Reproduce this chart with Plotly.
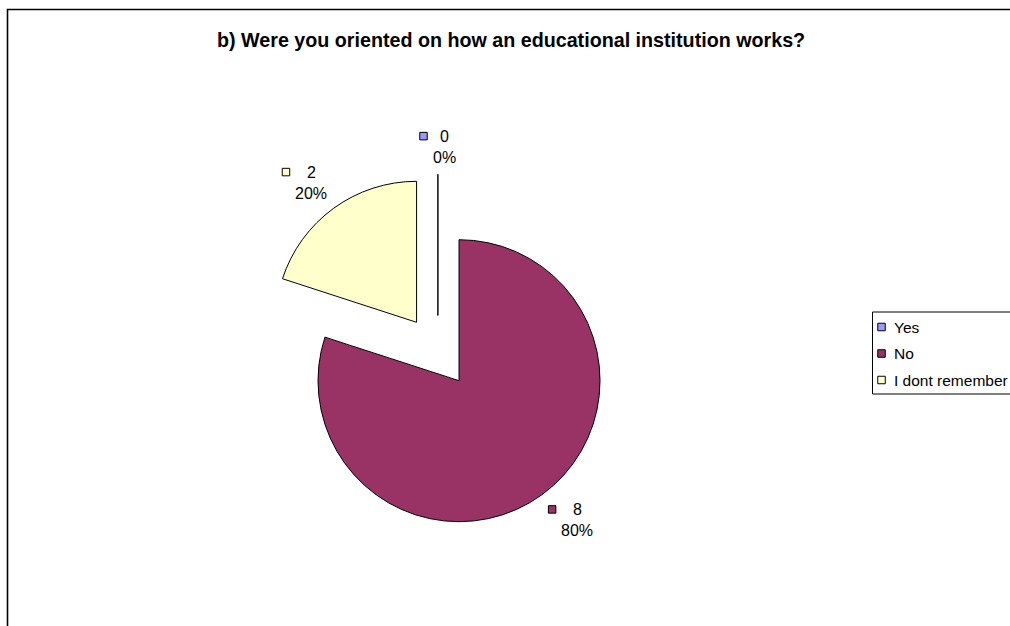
import math
import plotly.graph_objects as go

# ---- data ----
categories = ["Yes", "No", "I dont remember"]
counts = [0, 8, 2]
colors = ["#9999FF", "#993366", "#FFFFCC"]
title_text = "b) Were you oriented on how an educational institution works?"

# ---- layout constants (pixels) ----
W, H = 1010, 626
FONT = "Arial, 'Liberation Sans', sans-serif"
CX, CY = 437.8, 351.5      # pie centre (before pull)
R = 141.0                  # pie radius
PULL = 0.256               # explode fraction
LABEL_GAP = 11.0
FS = 16
LEG_FS = 15.5
LINE_SP = 21.5
SQ = 7.5
SQ_GAP = 5.5

total = sum(counts)
pcts = [round(100 * v / total) for v in counts]

half = R * (1 + PULL)
dom_x = [(CX - half) / W, (CX + half) / W]
dom_y = [1 - (CY + half) / H, 1 - (CY - half) / H]

fig = go.Figure()
fig.add_trace(go.Pie(
    labels=categories, values=counts,
    marker=dict(colors=colors, line=dict(color="black", width=1)),
    pull=[PULL] * len(counts), sort=False, direction="clockwise", rotation=0,
    textinfo="none", hoverinfo="label+value+percent", showlegend=False,
    domain=dict(x=dom_x, y=dom_y),
))


def unit(deg):
    a = math.radians(deg)
    return math.sin(a), -math.cos(a)


CHAR_W = {c: 0.556 for c in "0123456789"}
CHAR_W["%"] = 0.889


def text_w(s):
    return sum(CHAR_W.get(c, 0.556) for c in s) * FS


annotations = []
shapes = []
sq_x, sq_y, sq_c = [], [], []

cum = 0
for cat, v, p, col in zip(categories, counts, pcts, colors):
    start = cum / total * 360
    end = (cum + v) / total * 360
    cum += v
    mid = (start + end) / 2
    ux, uy = unit(mid)
    scx, scy = CX + PULL * R * ux, CY + PULL * R * uy
    if v == 0:
        shapes.append(dict(type="line", xref="x", yref="y", x0=scx, y0=scy,
                           x1=scx + R * ux, y1=scy + R * uy,
                           line=dict(color="#333333", width=1)))
    px, py = scx + (R + LABEL_GAP) * ux, scy + (R + LABEL_GAP) * uy
    lines = [str(v), f"{p}%"]
    tw = max(text_w(s) for s in lines)
    bw = SQ + SQ_GAP + tw
    bh = LINE_SP + 0.72 * FS
    if ux > 0.1:
        left = px
    elif ux < -0.1:
        left = px - bw
    else:
        left = px - bw / 2
    if uy > 0.1:
        top = py
    elif uy < -0.1:
        top = py - bh
    else:
        top = py - bh / 2
    l1 = top + 0.36 * FS
    tx = left + SQ + SQ_GAP + tw / 2
    for k, s in enumerate(lines):
        annotations.append(dict(x=tx, y=l1 + k * LINE_SP, xref="x", yref="y",
                                text=s, showarrow=False, xanchor="center",
                                yanchor="middle",
                                font=dict(family=FONT, size=FS, color="black")))
    sq_x.append(left + SQ / 2)
    sq_y.append(l1)
    sq_c.append(col)

# custom legend
LEG_L, LEG_T, LEG_B = 872.5, 312, 394
LEG_ROW0, LEG_ROW_SP = 327, 26.5
shapes.append(dict(type="rect", xref="x", yref="y", x0=LEG_L, y0=LEG_T,
                   x1=W + 30, y1=LEG_B, line=dict(color="black", width=1),
                   fillcolor="white", layer="below"))
for i, (cat, col) in enumerate(zip(categories, colors)):
    ry = LEG_ROW0 + i * LEG_ROW_SP
    sq_x.append(LEG_L + 9)
    sq_y.append(ry)
    sq_c.append(col)
    annotations.append(dict(x=LEG_L + 19.5, y=ry, xref="x", yref="y", text=cat,
                            showarrow=False, xanchor="left", yanchor="middle",
                            font=dict(family=FONT, size=LEG_FS, color="black")))

# outer frame
shapes.append(dict(type="rect", xref="x", yref="y", x0=7.5, y0=9.5,
                   x1=W + 30, y1=H + 30, line=dict(color="black", width=1.6)))

# title
annotations.append(dict(x=510.5, y=39.5, xref="x", yref="y",
                        text=f"<b>{title_text}</b>", showarrow=False,
                        xanchor="center", yanchor="middle",
                        font=dict(family=FONT, size=19.7, color="black")))

fig.add_trace(go.Scatter(
    x=sq_x, y=sq_y, mode="markers", hoverinfo="skip", showlegend=False,
    marker=dict(symbol="square", size=SQ, color=sq_c,
                line=dict(color="black", width=1)),
))

fig.update_layout(
    width=W, height=H, margin=dict(l=0, r=0, t=0, b=0),
    paper_bgcolor="white", plot_bgcolor="rgba(0,0,0,0)",
    xaxis=dict(range=[0, W], visible=False, fixedrange=True),
    yaxis=dict(range=[H, 0], visible=False, fixedrange=True),
    annotations=annotations, shapes=shapes, showlegend=False,
)

fig.write_html("out.html")
